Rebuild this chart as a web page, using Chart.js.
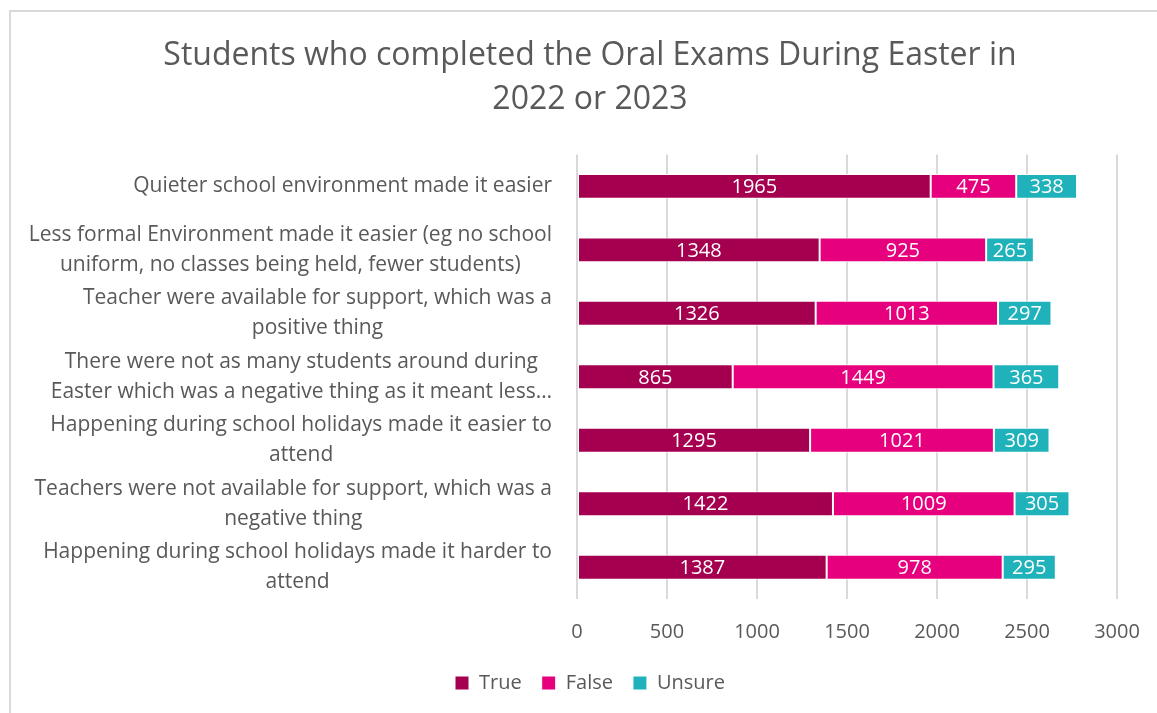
<!DOCTYPE html>
<html>
<head>
<meta charset="utf-8">
<script src="https://cdn.jsdelivr.net/npm/chart.js@4.4.0/dist/chart.umd.min.js"></script>
<style>
  html, body { margin: 0; padding: 0; background: #fff; }
  #wrap { position: relative; width: 1157px; height: 713px; }
  #frame { position: absolute; left: 9px; top: 10px; right: -2px; bottom: -2px;
           border-left: 2px solid #d9d9d9; border-top: 2px solid #d9d9d9; pointer-events: none; }
</style>
</head>
<body>
<div id="wrap">
  <canvas id="myChart" width="1157" height="713"></canvas>
  <div id="frame"></div>
</div>
<script>
var FONT = "'Open Sans', sans-serif";
var TEXT = '#595959';

var categories = [
  ['Quieter school environment made it easier'],
  ['Less formal Environment made it easier (eg no school', 'uniform, no classes being held, fewer students)'],
  ['Teacher were available for support, which was a', 'positive thing'],
  ['There were not as many students around during', 'Easter which was a negative thing as it meant less\u2026'],
  ['Happening during school holidays made it easier to', 'attend'],
  ['Teachers were not available for support, which was a', 'negative thing'],
  ['Happening during school holidays made it harder to', 'attend']
];
var trueValues   = [1965, 1348, 1326, 865, 1295, 1422, 1387];
var falseValues  = [475, 925, 1013, 1449, 1021, 1009, 978];
var unsureValues = [338, 265, 297, 365, 309, 305, 295];
var xTicks = [0, 500, 1000, 1500, 2000, 2500, 3000];

var LEFT_PAD = 23;
var PLOT_LEFT = 577;

// category labels: each block right-aligned, lines centred inside the block
var categoryLabels = {
  id: 'categoryLabels',
  afterDraw: function(chart) {
    var ctx = chart.ctx;
    var y = chart.scales.y;
    var rightEdge = chart.chartArea.left - 25;
    var lineH = 30;
    ctx.save();
    ctx.font = '21px ' + FONT;
    ctx.fillStyle = TEXT;
    ctx.textAlign = 'center';
    ctx.textBaseline = 'middle';
    categories.forEach(function(lines, i) {
      var widest = 0;
      lines.forEach(function(l) { widest = Math.max(widest, ctx.measureText(l).width); });
      var cx = rightEdge - widest / 2;
      var cy = y.getPixelForTick(i);
      var top = cy - (lines.length - 1) * lineH / 2;
      lines.forEach(function(l, k) { ctx.fillText(l, cx, top + k * lineH); });
    });
    ctx.restore();
  }
};

// white value labels in the middle of each segment
var valueLabels = {
  id: 'valueLabels',
  afterDatasetsDraw: function(chart) {
    var ctx = chart.ctx;
    ctx.save();
    ctx.font = '20px ' + FONT;
    ctx.fillStyle = '#ffffff';
    ctx.textAlign = 'center';
    ctx.textBaseline = 'middle';
    chart.data.datasets.forEach(function(ds, di) {
      chart.getDatasetMeta(di).data.forEach(function(bar, i) {
        var p = bar.getCenterPoint();
        ctx.fillText(ds.data[i], p.x, p.y + 1);
      });
    });
    ctx.restore();
  }
};

var ctx = document.getElementById('myChart').getContext('2d');
var chart = new Chart(ctx, {
  type: 'bar',
  data: {
    labels: categories,
    datasets: [
      { label: 'True', data: trueValues, backgroundColor: '#a5004f' },
      { label: 'False', data: falseValues, backgroundColor: '#e6007e' },
      { label: 'Unsure', data: unsureValues, backgroundColor: '#20b2bb' }
    ]
  },
  options: {
    indexAxis: 'y',
    responsive: false,
    animation: false,
    devicePixelRatio: 1,
    layout: { padding: { left: LEFT_PAD, right: 0, top: 10, bottom: 10 } },
    datasets: {
      bar: {
        categoryPercentage: 0.8,
        barPercentage: 0.49,
        borderColor: '#ffffff',
        borderWidth: 1,
        borderSkipped: false
      }
    },
    scales: {
      x: {
        stacked: true,
        min: 0,
        max: 3000,
        afterBuildTicks: function(s) { s.ticks = xTicks.map(function(v) { return { value: v }; }); },
        afterFit: function(s) { s.height = 54; s.paddingRight = 40; },
        grid: { color: '#d9d9d9', lineWidth: 2, drawTicks: false },
        border: { display: false },
        ticks: {
          color: TEXT,
          font: { family: FONT, size: 20 },
          padding: 21,
          maxRotation: 0,
          callback: function(v) { return String(v); }
        }
      },
      y: {
        stacked: true,
        grid: { display: false },
        border: { display: false },
        ticks: { display: false },
        afterFit: function(s) { s.width = PLOT_LEFT - LEFT_PAD; }
      }
    },
    plugins: {
      title: {
        display: true,
        text: ['Students who completed the Oral Exams During Easter in', '2022 or 2023'],
        color: TEXT,
        font: { family: FONT, size: 32, weight: 'normal', lineHeight: 1.4 },
        padding: { top: 23, bottom: 32 }
      },
      legend: {
        position: 'bottom',
        labels: {
          color: TEXT,
          font: { family: FONT, size: 20 },
          boxWidth: 14,
          boxHeight: 14,
          padding: 20
        }
      },
      tooltip: { enabled: false }
    }
  },
  plugins: [categoryLabels, valueLabels]
});
</script>
</body>
</html>
